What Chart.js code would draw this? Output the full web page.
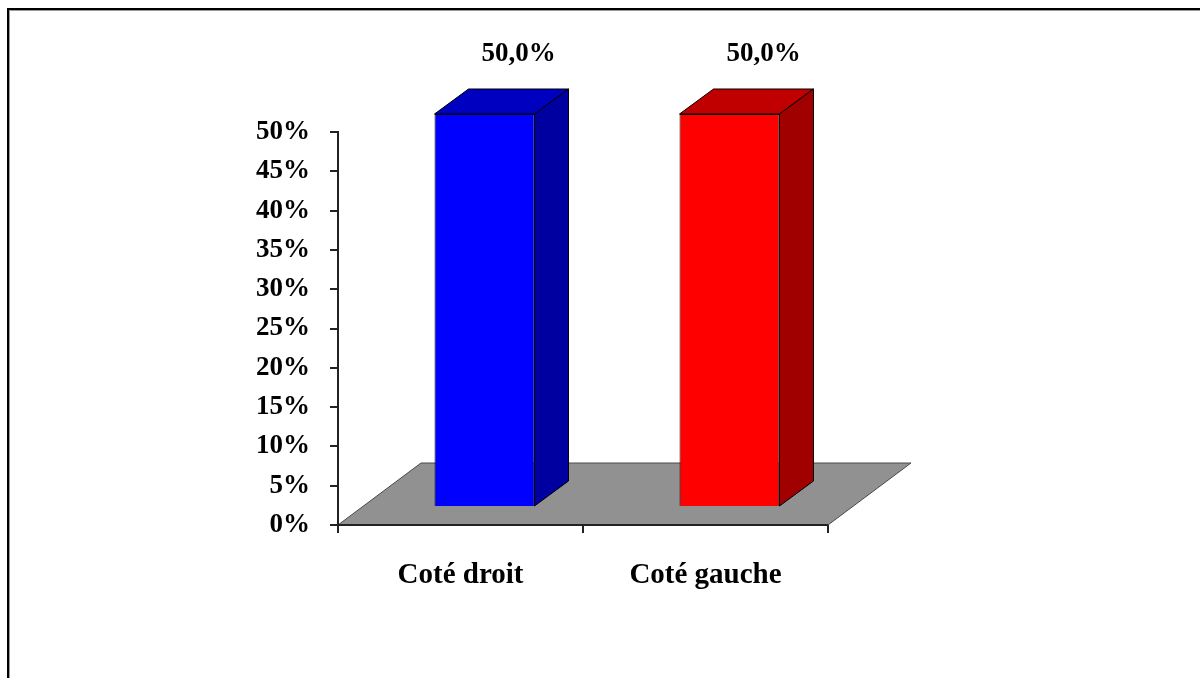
<!DOCTYPE html>
<html>
<head>
<meta charset="utf-8">
<title>Coté droit / Coté gauche</title>
<script src="https://cdn.jsdelivr.net/npm/chart.js@4.4.1/dist/chart.umd.min.js"></script>
<style>
  html, body { margin: 0; padding: 0; background: #ffffff; }
  #wrap { position: relative; width: 1200px; height: 678px; overflow: hidden; }
  canvas { display: block; }
</style>
</head>
<body>
<div id="wrap"><canvas id="chart" width="1200" height="678"></canvas></div>
<script>
// Categories and values (percent)
const categories = ['Coté droit', 'Coté gauche'];
const values = [50, 50];
const frontColors = ['#0000ff', '#ff0000'];
const topColors = ['#0000c0', '#c00000'];
const sideColors = ['#0000a0', '#a00000'];
const yMin = 0;
const yMax = 50;
const yStep = 5;

const FONT = '"Liberation Serif", "Times New Roman", serif';

// Depth of the floor and of the bars, in pixels
const FLOOR_DX = 83, FLOOR_DY = -62;
const BAR_SHIFT_X = 24, BAR_SHIFT_Y = -18;
const BAR_DX = 34, BAR_DY = -25;

function fmtLabel(v) {
  return v.toFixed(1).replace('.', ',') + '%';
}

function poly(ctx, pts, fill, stroke, lw) {
  ctx.beginPath();
  ctx.moveTo(pts[0][0], pts[0][1]);
  for (let i = 1; i < pts.length; i++) ctx.lineTo(pts[i][0], pts[i][1]);
  ctx.closePath();
  if (fill) { ctx.fillStyle = fill; ctx.fill(); }
  if (stroke) { ctx.strokeStyle = stroke; ctx.lineWidth = lw || 1; ctx.stroke(); }
}

const frame3d = {
  id: 'frame3d',
  beforeDraw(chart) {
    const ctx = chart.ctx;
    ctx.save();
    ctx.fillStyle = '#ffffff';
    ctx.fillRect(0, 0, chart.width, chart.height);
    // outer frame (top and left edges)
    ctx.fillStyle = '#000000';
    ctx.fillRect(7, 8, chart.width - 7, 2);
    ctx.fillRect(7, 8, 2, chart.height - 8);
    ctx.fillStyle = '#9a9a9a';
    ctx.fillRect(9, 10, chart.width - 9, 1);
    ctx.fillRect(9, 10, 1, chart.height - 10);
    ctx.restore();
  },
  beforeDatasetsDraw(chart) {
    const ctx = chart.ctx;
    const x = chart.scales.x, y = chart.scales.y;
    const y0 = y.getPixelForValue(yMin);
    ctx.save();
    // floor
    poly(ctx, [
      [x.left, y0], [x.right, y0],
      [x.right + FLOOR_DX, y0 + FLOOR_DY], [x.left + FLOOR_DX, y0 + FLOOR_DY]
    ], '#919191', '#4a4a4a', 1);
    ctx.beginPath();
    ctx.moveTo(x.left, y0); ctx.lineTo(x.right, y0);
    ctx.strokeStyle = '#222222'; ctx.lineWidth = 2; ctx.stroke();
    ctx.restore();
    // front faces of bars sit inside the floor depth
    ctx.save();
    ctx.translate(BAR_SHIFT_X, BAR_SHIFT_Y);
  },
  afterDatasetsDraw(chart) {
    const ctx = chart.ctx;
    ctx.restore();
    const meta = chart.getDatasetMeta(0);
    const y = chart.scales.y;
    ctx.save();
    meta.data.forEach((bar, i) => {
      const p = bar.getProps(['x', 'y', 'base', 'width'], true);
      const L = p.x - p.width / 2 + BAR_SHIFT_X;
      const R = p.x + p.width / 2 + BAR_SHIFT_X;
      const T = p.y + BAR_SHIFT_Y;
      const B = p.base + BAR_SHIFT_Y;
      ctx.lineJoin = 'round';
      // top face
      poly(ctx, [[L, T], [R, T], [R + BAR_DX, T + BAR_DY], [L + BAR_DX, T + BAR_DY]],
        topColors[i], '#000000', 1);
      // side face
      poly(ctx, [[R, T], [R + BAR_DX, T + BAR_DY], [R + BAR_DX, B + BAR_DY], [R, B]],
        sideColors[i], '#000000', 1);
      // value label
      ctx.fillStyle = '#000000';
      ctx.font = 'bold 27px ' + FONT;
      ctx.textAlign = 'center';
      ctx.textBaseline = 'alphabetic';
      ctx.fillText(fmtLabel(values[i]), (L + R) / 2 + 34, y.getPixelForValue(values[i]) - 71);
    });
    ctx.restore();
  }
};

new Chart(document.getElementById('chart'), {
  type: 'bar',
  data: {
    labels: categories,
    datasets: [{
      data: values,
      backgroundColor: frontColors,
      borderColor: '#000000',
      borderWidth: 1,
      barPercentage: 0.408,
      categoryPercentage: 1,
      clip: false
    }]
  },
  options: {
    responsive: false,
    devicePixelRatio: 1,
    animation: false,
    events: [],
    layout: { padding: { top: 132, right: 372, left: 0, bottom: 0 } },
    plugins: { legend: { display: false }, tooltip: { enabled: false } },
    scales: {
      x: {
        offset: true,
        afterFit(scale) { scale.height = 153; },
        border: { display: true, color: '#222222', width: 2 },
        grid: { offset: true, drawOnChartArea: false, drawTicks: true, tickLength: 8, color: '#222222', lineWidth: 2 },
        ticks: { color: '#000000', padding: 25, maxRotation: 0, font: { family: FONT, size: 29, weight: 'bold' } }
      },
      y: {
        min: yMin,
        max: yMax,
        afterFit(scale) { scale.width = 338; },
        border: { display: true, color: '#222222', width: 2 },
        grid: { drawOnChartArea: false, drawTicks: true, tickLength: 8, color: '#222222', lineWidth: 2 },
        ticks: {
          stepSize: yStep,
          padding: 20,
          color: '#000000',
          font: { family: FONT, size: 27, weight: 'bold' },
          callback: (v) => v + '%'
        }
      }
    }
  },
  plugins: [frame3d]
});
</script>
</body>
</html>
